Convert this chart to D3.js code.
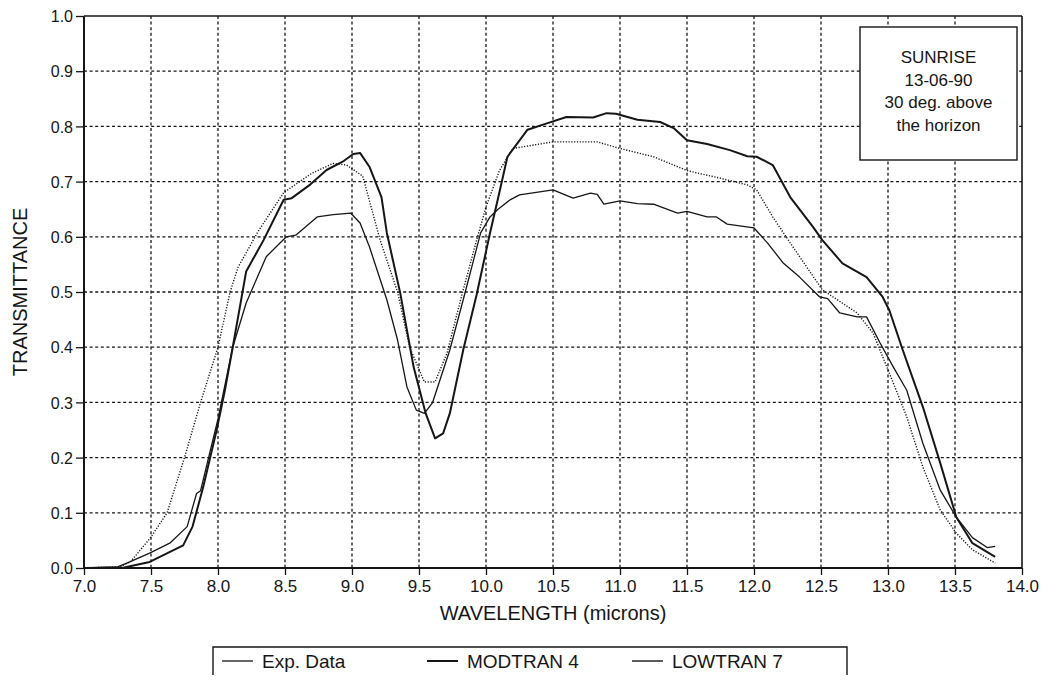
<!DOCTYPE html>
<html>
<head>
<meta charset="utf-8">
<script src="https://cdn.jsdelivr.net/npm/d3@7"></script>
<style>
  body { margin: 0; background: #fff; }
  svg { display: block; font-family: "Liberation Sans", Arial, sans-serif; }
</style>
</head>
<body>
<div id="chart"></div>
<script>
// series
let expWave = [7.0, 7.25, 7.32, 7.49, 7.64, 7.77, 7.84, 7.87, 8.0, 8.11, 8.21, 8.36, 8.51, 8.58, 8.74, 8.86, 8.99, 9.06, 9.13, 9.26, 9.34, 9.41, 9.48, 9.54, 9.6, 9.73, 9.83, 9.96, 10.03, 10.09, 10.18, 10.25, 10.5, 10.65, 10.78, 10.83, 10.88, 11.0, 11.13, 11.25, 11.43, 11.5, 11.65, 11.72, 11.8, 12.0, 12.1, 12.22, 12.34, 12.49, 12.55, 12.64, 12.77, 12.84, 12.94, 13.04, 13.14, 13.26, 13.39, 13.51, 13.63, 13.74, 13.8]
let expTrans = [0, 0.002, 0.009, 0.027, 0.045, 0.075, 0.135, 0.14, 0.27, 0.40, 0.48, 0.564, 0.600, 0.603, 0.636, 0.640, 0.643, 0.625, 0.582, 0.486, 0.413, 0.328, 0.286, 0.280, 0.299, 0.395, 0.486, 0.607, 0.636, 0.650, 0.667, 0.676, 0.685, 0.670, 0.679, 0.677, 0.659, 0.665, 0.660, 0.659, 0.643, 0.646, 0.636, 0.636, 0.623, 0.616, 0.589, 0.552, 0.527, 0.491, 0.488, 0.462, 0.455, 0.455, 0.408, 0.364, 0.322, 0.226, 0.141, 0.092, 0.055, 0.037, 0.039]

let modWave = [7.0, 7.3, 7.49, 7.74, 7.81, 7.89, 7.99, 8.05, 8.11, 8.21, 8.34, 8.49, 8.55, 8.69, 8.81, 8.93, 9.01, 9.06, 9.13, 9.22, 9.26, 9.36, 9.46, 9.55, 9.62, 9.68, 9.73, 9.83, 9.93, 10.03, 10.09, 10.16, 10.31, 10.46, 10.6, 10.8, 10.9, 10.97, 11.13, 11.3, 11.4, 11.5, 11.65, 11.82, 11.95, 12.02, 12.14, 12.27, 12.44, 12.51, 12.66, 12.84, 12.96, 13.01, 13.11, 13.26, 13.39, 13.51, 13.63, 13.8]
let modTrans = [0, 0.001, 0.011, 0.041, 0.075, 0.147, 0.25, 0.32, 0.40, 0.537, 0.594, 0.667, 0.670, 0.695, 0.721, 0.736, 0.750, 0.752, 0.727, 0.672, 0.607, 0.498, 0.364, 0.280, 0.235, 0.244, 0.280, 0.395, 0.495, 0.607, 0.670, 0.745, 0.794, 0.806, 0.817, 0.816, 0.824, 0.823, 0.812, 0.808, 0.797, 0.775, 0.768, 0.757, 0.746, 0.745, 0.730, 0.672, 0.618, 0.594, 0.552, 0.527, 0.491, 0.467, 0.395, 0.292, 0.190, 0.092, 0.045, 0.020]

let lowWave = [7.0, 7.27, 7.35, 7.5, 7.62, 7.75, 7.87, 8.0, 8.09, 8.15, 8.3, 8.49, 8.7, 8.86, 8.96, 9.08, 9.21, 9.34, 9.43, 9.54, 9.62, 9.71, 9.82, 9.93, 10.0, 10.1, 10.2, 10.5, 10.83, 11.0, 11.25, 11.5, 11.75, 11.95, 12.02, 12.14, 12.27, 12.51, 12.77, 12.89, 13.01, 13.14, 13.26, 13.39, 13.51, 13.63, 13.8]
let lowTrans = [0, 0.002, 0.012, 0.056, 0.10, 0.20, 0.30, 0.40, 0.50, 0.545, 0.61, 0.68, 0.715, 0.733, 0.730, 0.710, 0.594, 0.50, 0.40, 0.337, 0.337, 0.39, 0.495, 0.594, 0.654, 0.72, 0.76, 0.772, 0.772, 0.76, 0.745, 0.72, 0.706, 0.694, 0.685, 0.636, 0.589, 0.504, 0.462, 0.425, 0.353, 0.274, 0.183, 0.105, 0.063, 0.033, 0.009]

let xTicks = [7.0, 7.5, 8.0, 8.5, 9.0, 9.5, 10.0, 10.5, 11.0, 11.5, 12.0, 12.5, 13.0, 13.5, 14.0]
let yTicks = [0.0, 0.1, 0.2, 0.3, 0.4, 0.5, 0.6, 0.7, 0.8, 0.9, 1.0]
let seriesNames = ["Exp. Data", "MODTRAN 4", "LOWTRAN 7"]
let infoLines = ["SUNRISE", "13-06-90", "30 deg. above", "the horizon"]

let config = {
  width: 1045,
  height: 683,
  left: 84,
  right: 1022,
  top: 16,
  bottom: 568,
  ink: "#161616"
}

let svg = d3.select("#chart").append("svg")
  .attr("width", config.width)
  .attr("height", config.height)

let x = d3.scaleLinear().domain([7, 14]).range([config.left, config.right])
let y = d3.scaleLinear().domain([0, 1]).range([config.bottom, config.top])

// dotted grid
svg.append("g")
  .selectAll("line")
  .data(xTicks.slice(1, -1))
  .join("line")
  .attr("x1", d => x(d)).attr("x2", d => x(d))
  .attr("y1", config.top).attr("y2", config.bottom)
  .attr("stroke", config.ink)
  .attr("stroke-width", 1.3)
  .attr("stroke-dasharray", "3,2.6")

svg.append("g")
  .selectAll("line")
  .data(yTicks.slice(1, -1))
  .join("line")
  .attr("x1", config.left).attr("x2", config.right)
  .attr("y1", d => y(d)).attr("y2", d => y(d))
  .attr("stroke", config.ink)
  .attr("stroke-width", 1.3)
  .attr("stroke-dasharray", "3,2.6")

// axes
let yAxis = svg.append("g")
  .attr("transform", "translate(" + config.left + ",0)")
  .call(d3.axisLeft(y).tickValues(yTicks).tickFormat(d3.format(".1f")).tickSize(8).tickPadding(3))
let xAxis = svg.append("g")
  .attr("transform", "translate(0," + config.bottom + ")")
  .call(d3.axisBottom(x).tickValues(xTicks).tickFormat(d3.format(".1f")).tickSize(7).tickPadding(5))

yAxis.select(".domain").remove()
xAxis.select(".domain").remove()
yAxis.selectAll("line").attr("stroke", config.ink).attr("stroke-width", 1.3)
xAxis.selectAll("line").attr("stroke", config.ink).attr("stroke-width", 1.3)
yAxis.selectAll("text")
  .attr("fill", config.ink)
  .style("font-size", "16px")
  .style("font-family", "'Liberation Sans', Arial, sans-serif")
  .attr("dy", "0.36em")
xAxis.selectAll("text")
  .attr("fill", config.ink)
  .style("font-size", "17px")
  .style("font-family", "'Liberation Sans', Arial, sans-serif")

// frame
svg.append("line")
  .attr("x1", config.left).attr("x2", config.right)
  .attr("y1", config.top).attr("y2", config.top)
  .attr("stroke", config.ink).attr("stroke-width", 1.6)
svg.append("line")
  .attr("x1", config.right).attr("x2", config.right)
  .attr("y1", config.top).attr("y2", config.bottom)
  .attr("stroke", config.ink).attr("stroke-width", 1.6)
svg.append("line")
  .attr("x1", config.left).attr("x2", config.left)
  .attr("y1", config.top).attr("y2", config.bottom)
  .attr("stroke", config.ink).attr("stroke-width", 2)
svg.append("line")
  .attr("x1", config.left).attr("x2", config.right)
  .attr("y1", config.bottom).attr("y2", config.bottom)
  .attr("stroke", config.ink).attr("stroke-width", 2.2)

// curves
let line = d3.line()
  .x(d => x(d[0]))
  .y(d => y(d[1]))

let series = [
  { name: seriesNames[0], pts: d3.zip(expWave, expTrans), width: 1.3, dash: null },
  { name: seriesNames[1], pts: d3.zip(modWave, modTrans), width: 2, dash: null },
  { name: seriesNames[2], pts: d3.zip(lowWave, lowTrans), width: 1.4, dash: "1.2,1.6" }
]

svg.append("g")
  .selectAll("path")
  .data(series)
  .join("path")
  .attr("d", d => line(d.pts))
  .attr("fill", "none")
  .attr("stroke", config.ink)
  .attr("stroke-width", d => d.width)
  .attr("stroke-linejoin", "round")
  .attr("stroke-dasharray", d => d.dash)

// axis titles
svg.append("text")
  .attr("x", (config.left + config.right) / 2)
  .attr("y", 620)
  .attr("text-anchor", "middle")
  .attr("fill", config.ink)
  .style("font-size", "20px")
  .text("WAVELENGTH (microns)")

svg.append("text")
  .attr("transform", "translate(27," + (config.top + config.bottom) / 2 + ") rotate(-90)")
  .attr("text-anchor", "middle")
  .attr("fill", config.ink)
  .style("font-size", "20px")
  .text("TRANSMITTANCE")

// info box
let info = svg.append("g")
info.append("rect")
  .attr("x", 860).attr("y", 27)
  .attr("width", 157).attr("height", 133)
  .attr("fill", "#fff")
  .attr("stroke", config.ink)
  .attr("stroke-width", 1.4)
info.selectAll("text")
  .data(infoLines)
  .join("text")
  .attr("x", 938.5)
  .attr("y", (d, i) => 63 + i * 22.7)
  .attr("text-anchor", "middle")
  .attr("fill", config.ink)
  .style("font-size", "17px")
  .text(d => d)

// legend (bottom edge is cut off in the scan)
let legend = svg.append("g")
legend.append("path")
  .attr("d", "M213,675 V647 H847 V675")
  .attr("fill", "none")
  .attr("stroke", config.ink)
  .attr("stroke-width", 1.4)

let item = legend.selectAll("g.item")
  .data(series)
  .join("g")
  .attr("class", "item")
  .attr("transform", (d, i) => "translate(" + (222 + i * 205) + ",0)")
item.append("line")
  .attr("x1", 0).attr("x2", 31)
  .attr("y1", 661).attr("y2", 661)
  .attr("stroke", config.ink)
  .attr("stroke-width", d => d.width)
item.append("text")
  .attr("x", 40)
  .attr("y", 668)
  .attr("fill", config.ink)
  .style("font-size", "19px")
  .text(d => d.name)
</script>
</body>
</html>
